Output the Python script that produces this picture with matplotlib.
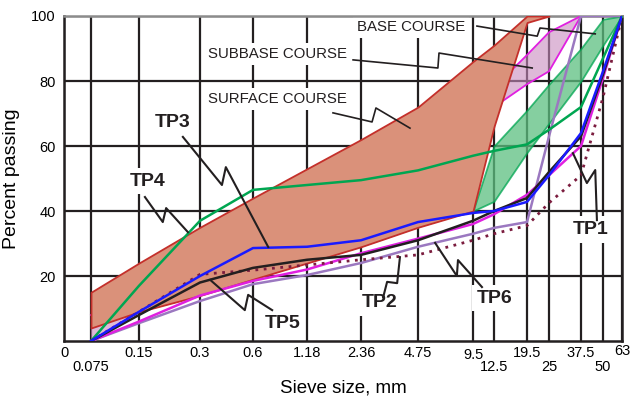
import numpy as np
import matplotlib.pyplot as plt

plt.rcParams['font.family'] = ['Liberation Sans', 'DejaVu Sans']

# sieve sizes (mm) used by every grading curve
sieve = [0.075, 0.15, 0.3, 0.6, 1.18, 2.36, 4.75, 9.5, 12.5, 19.5, 25, 37.5, 50, 63]

# the printed axis is neither linear nor log: spacing of the sieves
axis_sieve = [0, 0.075, 0.15, 0.3, 0.6, 1.18, 2.36, 4.75, 9.5, 12.5, 19.5, 25, 37.5, 50, 63]
axis_step = [0, 27, 75, 136, 189, 243, 297, 354, 409, 430, 463, 485, 517, 539, 558]
tick_text = ['0', '0.075', '0.15', '0.3', '0.6', '1.18', '2.36', '4.75', '9.5',
             '12.5', '19.5', '25', '37.5', '50', '63']
tick_row = [0, 1, 0, 0, 0, 0, 0, 0, 0, 1, 0, 1, 0, 1, 0]

# specification envelopes
surface_sieve = sieve[:11]
surface_lo = [4, 9, 14, 19, 24, 29, 35, 40, 66, 98, 100]
surface_hi = [15, 24, 35, 44, 53, 62, 72, 86, 91, 100, 100]
subbase_lo = [0, 9, 14, 19, 24, 29, 35, 40, 72, 79, 83, 100, 100, 100]
subbase_hi = [8, 17, 26, 34, 42, 50, 58, 66, 78, 88, 95, 100, 100, 100]
base_sieve = sieve[7:]
base_lo = [40, 43, 58, 67, 80, 91, 100]
base_hi = [40, 60, 71, 79, 90, 99, 100]

# test pits
tp1 = [0, 6, 14, 18.5, 22, 27, 31.5, 36, 39, 45, 51, 60, 81, 100]
tp2 = [0, 9, 20.5, 21.8, 23.4, 25, 26.5, 31, 33, 35.5, 42.5, 51, 75, 100]
tp3 = [0, 9, 20, 28.6, 29, 31, 36.6, 39.4, 40, 42.8, 51, 64, 83, 100]
tp4 = [0, 17, 37, 46.5, 48, 49.5, 52.5, 57, 58.5, 60.5, 65, 72, 87, 100]
tp5 = [0, 8, 18, 22.5, 25, 26.5, 31, 37, 40, 44, 52, 63, 82, 100]
tp6 = [0, 5.5, 12.3, 17.5, 20.3, 24, 29, 33, 34.8, 36.6, 63, 100, 100, 100]

fig = plt.figure(figsize=(6.37, 4.01), dpi=100)
ax = fig.add_axes([0.1005, 0.1496, 0.876, 0.8105])

fwd = lambda v: np.interp(v, axis_sieve, axis_step)
inv = lambda v: np.interp(v, axis_step, axis_sieve)
ax.set_xscale('function', functions=(fwd, inv))
ax.set_xlim(0, 63)
ax.set_ylim(0, 100)

ax.set_xticks(axis_sieve)
ax.set_xticklabels([])
ax.set_yticks([20, 40, 60, 80, 100])
ax.set_yticklabels(['20', '40', '60', '80', '100'], fontsize=10.5)
ax.tick_params(length=0, pad=6)
ax.set_axisbelow(True)
ax.grid(True, color='#231f20', lw=1.6)
for s in ax.spines.values():
    s.set_linewidth(1.8)
    s.set_color('#231f20')
ax.spines['top'].set_color('#8c8c8c')

xt = ax.get_xaxis_transform()
for v, t, r in zip(axis_sieve, tick_text, tick_row):
    yy = -0.080 if r else -0.036
    if t == '63':
        yy = -0.030
    if t == '9.5':
        yy = -0.044
    ax.text(v, yy, t, transform=xt, ha='center', va='center', fontsize=10.5)

ax.set_xlabel('Sieve size, mm', fontsize=13.5, labelpad=22)
ax.set_ylabel('Percent passing', fontsize=14, labelpad=8)

# envelopes
ax.fill_between(sieve, subbase_lo, subbase_hi, facecolor='#c98bbf', alpha=0.6,
                edgecolor='none', zorder=3)
ax.plot(sieve, subbase_lo, color='#e020e0', lw=1.3, zorder=3)
ax.plot(sieve, subbase_hi, color='#e020e0', lw=1.3, zorder=3)
ax.fill_between(base_sieve, base_lo, base_hi, facecolor='#5cbf80', alpha=0.75,
                edgecolor='#00a651', lw=1.3, zorder=3)
ax.fill_between(surface_sieve, surface_lo, surface_hi, facecolor='#da917a',
                edgecolor='#c4302b', lw=1.3, zorder=3.2)

# test pit gradations
ax.plot(sieve, tp6, color='#9b78c0', lw=1.8, zorder=4)
ax.plot(sieve, tp1, color='#e020e0', lw=1.8, zorder=4)
ax.plot(sieve, tp2, color='#7b1c3e', lw=2, ls=(0, (1, 2)), zorder=4)
ax.plot(sieve, tp4, color='#00a651', lw=1.8, zorder=4)
ax.plot(sieve, tp5, color='#231f20', lw=1.8, zorder=4)
ax.plot(sieve, tp3, color='#1a1aff', lw=1.8, zorder=4)

# labels and zigzag leaders (axes fractions)
box = dict(boxstyle='square,pad=0.25', fc='white', ec='none')
course = [('BASE COURSE', 0.525, 0.966,
           [(0.740, 0.969), (0.848, 0.938), (0.853, 0.963), (0.952, 0.945)]),
          ('SUBBASE COURSE', 0.258, 0.883,
           [(0.518, 0.865), (0.670, 0.840), (0.672, 0.886), (0.839, 0.840)]),
          ('SURFACE COURSE', 0.258, 0.745,
           [(0.482, 0.702), (0.552, 0.674), (0.559, 0.717), (0.620, 0.655)])]
for t, x, y, lead in course:
    ax.text(x, y, t, transform=ax.transAxes, ha='left', va='center',
            fontsize=10.8, color='#231f20', bbox=box, zorder=2)
    lx, ly = zip(*lead)
    ax.plot(lx, ly, transform=ax.transAxes, color='#231f20', lw=1.2, zorder=5)

pits = [('TP3', 0.194, 0.671,
         [(0.213, 0.628), (0.283, 0.480), (0.290, 0.535), (0.366, 0.289)]),
        ('TP4', 0.149, 0.492,
         [(0.145, 0.443), (0.177, 0.366), (0.183, 0.409), (0.222, 0.335)]),
        ('TP5', 0.391, 0.055,
         [(0.262, 0.188), (0.324, 0.095), (0.330, 0.142), (0.373, 0.095)]),
        ('TP2', 0.566, 0.117,
         [(0.602, 0.258), (0.597, 0.178), (0.579, 0.182), (0.572, 0.135)]),
        ('TP6', 0.771, 0.132,
         [(0.665, 0.302), (0.704, 0.200), (0.706, 0.249), (0.749, 0.166)]),
        ('TP1', 0.943, 0.342,
         [(0.912, 0.578), (0.937, 0.486), (0.952, 0.526), (0.955, 0.372)])]
for t, x, y, lead in pits:
    ax.text(x, y, t, transform=ax.transAxes, ha='center', va='center',
            fontsize=14, fontweight='bold', color='#231f20', bbox=box, zorder=2)
    lx, ly = zip(*lead)
    ax.plot(lx, ly, transform=ax.transAxes, color='#231f20', lw=1.5, zorder=5)

fig.savefig('out.png', dpi=100)
